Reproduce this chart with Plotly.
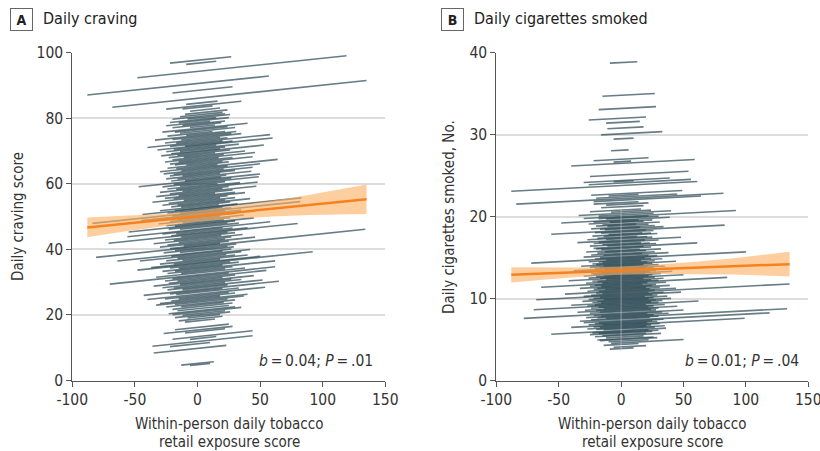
import plotly.graph_objects as go

# ---------------- data ----------------
# Panel A: person-specific lines (value at x=0, range of exposure)
craving_slope = 0.04
craving_icpt = [97.7, 96.8, 94.3, 90.6, 88.5, 86.1, 84.6, 83.8, 83.3, 82.4,
 81.6, 81.0, 80.5, 80.1, 79.6, 79.2, 78.7, 78.3, 77.9, 77.4,
 76.9, 76.5, 76.0, 75.5, 75.1, 74.7, 74.3, 73.9, 73.5, 73.1,
 72.7, 72.3, 71.9, 71.6, 71.2, 70.8, 70.4, 70.0, 69.7, 69.3,
 68.9, 68.5, 68.1, 67.7, 67.3, 66.9, 66.5, 66.1, 65.7, 65.3,
 64.9, 64.5, 64.1, 63.7, 63.3, 62.9, 62.5, 62.1, 61.7, 61.3,
 61.0, 60.6, 60.2, 59.8, 59.4, 59.0, 58.6, 58.2, 57.8, 57.4,
 57.0, 56.6, 56.2, 55.8, 55.4, 55.0, 54.6, 54.2, 53.8, 53.4,
 53.0, 52.6, 52.4, 52.0, 51.6, 51.3, 51.0, 50.6, 50.2, 49.8,
 49.4, 49.0, 48.6, 48.2, 47.8, 47.5, 47.1, 46.7, 46.1, 45.8,
 45.4, 45.0, 44.7, 44.3, 43.9, 43.5, 43.1, 42.7, 42.3, 41.9,
 41.5, 41.1, 40.8, 40.4, 40.0, 39.6, 39.0, 38.7, 38.3, 37.9,
 37.5, 37.1, 36.7, 36.3, 35.9, 35.6, 35.2, 34.8, 34.4, 34.0,
 33.6, 33.2, 32.8, 32.2, 31.8, 31.4, 31.0, 30.6, 30.2, 29.8,
 29.4, 29.0, 28.6, 28.2, 27.7, 27.3, 26.9, 26.3, 25.9, 25.5,
 25.1, 24.7, 24.3, 23.9, 23.4, 23.0, 22.5, 21.9, 21.3, 20.9,
 20.4, 19.9, 19.4, 18.8, 18.2, 16.2, 15.4, 14.9, 13.4, 12.8,
 11.9, 11.2, 9.8, 5.2, 4.8]
craving_xmin = [-22, -9, -48, -88, -20, -68, -9, -25, -12, -6,
 -10, -14, -20, -8, -22, -15, -25, -12, -20, -6,
 -28, -18, -14, -24, -9, -34, -20, -13, -26, -17,
 -40, -22, -10, -32, -19, -25, -14, -21, -29, -16,
 -23, -11, -20, -26, -15, -22, -18, -9, -24, -17,
 -30, -13, -27, -19, -22, -12, -25, -16, -21, -10,
 -47, -19, -28, -14, -24, -17, -30, -12, -22, -33,
 -15, -26, -19, -36, -11, -23, -28, -16, -21, -13,
 -30, -18, -44, -24, -14, -84, -20, -45, -27, -16,
 -22, -31, -12, -25, -18, -55, -23, -14, -56, -28,
 -17, -21, -71, -13, -26, -19, -35, -15, -24, -30,
 -11, -22, -81, -18, -27, -14, -64, -21, -46, -16,
 -25, -12, -30, -19, -37, -48, -22, -15, -28, -18,
 -24, -13, -33, -70, -20, -26, -16, -23, -35, -14,
 -28, -19, -24, -12, -43, -22, -17, -40, -26, -15,
 -21, -30, -33, -18, -25, -13, -20, -16, -23, -20,
 -12, -18, -8, -15, -10, -18, -27, -10, -20, -6,
 -36, -22, -35, -13, -6]
craving_xmax = [27, 15, 119, 57, 28, 135, 16, 35, 12, 18,
 24, 20, 22, 26, 15, 25, 10, 22, 19, 14,
 40, 24, 30, 12, 22, 31, 27, 35, 18, 24,
 58, 20, 28, 60, 15, 33, 22, 18, 53, 26,
 14, 38, 21, 46, 17, 28, 44, 20, 25, 16,
 64, 24, 50, 21, 44, 30, 18, 43, 23, 19,
 50, 27, 49, 22, 16, 34, 48, 25, 20, 47,
 28, 14, 30, 38, 24, 18, 30, 22, 42, 26,
 17, 32, 83, 20, 27, 82, 22, 35, 24, 31,
 18, 37, 26, 21, 45, 30, 24, 33, 58, 20,
 28, 40, 80, 24, 30, 19, 36, 27, 22, 46,
 25, 18, 134, 31, 24, 29, 27, 20, 42, 35,
 23, 30, 40, 18, 50, 92, 26, 33, 20, 62,
 28, 22, 38, 62, 25, 55, 30, 20, 45, 27,
 35, 22, 52, 24, 65, 20, 33, 54, 25, 30,
 18, 40, 37, 24, 30, 21, 28, 25, 30, 35,
 22, 26, 18, 20, 14, 25, 28, 22, 44, 15,
 44, 10, 23, 13, 10]

craving_band_x = [-88, -60, -30, 0, 30, 60, 90, 135]
craving_band_lo = [43.7, 45.4, 47.0, 48.4, 49.4, 50.0, 50.5, 50.8]
craving_band_hi = [49.7, 50.2, 50.8, 51.8, 53.2, 54.8, 56.7, 59.8]
craving_fit_x = [-88, 135]
craving_fit_y = [46.7, 55.3]

# Panel B
cig_slope = 0.008
cig_icpt = [38.8, 34.8, 33.2, 32.0, 31.5, 30.8, 30.1, 29.5, 28.1, 27.0,
 26.7, 26.5, 25.1, 24.4, 24.3, 24.1, 23.8, 22.8, 22.6, 22.4,
 22.2, 22.0, 21.7, 21.5, 21.2, 20.8, 20.6, 20.4, 20.2, 20.0,
 19.9, 19.8, 19.6, 19.5, 19.4, 19.3, 19.1, 19.0, 18.9, 18.7,
 18.6, 18.5, 18.3, 18.2, 18.1, 17.9, 17.8, 17.7, 17.5, 17.4,
 17.3, 17.1, 17.0, 16.9, 16.7, 16.6, 16.5, 16.3, 16.2, 16.1,
 15.9, 15.8, 15.7, 15.5, 15.4, 15.3, 15.1, 15.0, 14.9, 14.8,
 14.7, 14.6, 14.5, 14.4, 14.3, 14.2, 14.1, 14.0, 13.9, 13.8,
 13.7, 13.6, 13.5, 13.4, 13.3, 13.2, 13.1, 13.0, 12.9, 12.8,
 12.7, 12.6, 12.5, 12.4, 12.3, 12.2, 12.1, 12.0, 11.9, 11.8,
 11.7, 11.6, 11.5, 11.4, 11.3, 11.2, 11.1, 11.0, 10.9, 10.8,
 10.7, 10.6, 10.5, 10.4, 10.3, 10.2, 10.1, 10.0, 9.9, 9.8,
 9.7, 9.6, 9.5, 9.4, 9.3, 9.2, 9.1, 9.0, 8.9, 8.8,
 8.7, 8.6, 8.5, 8.4, 8.2, 8.1, 8.0, 7.9, 7.8, 7.7,
 7.6, 7.5, 7.3, 7.2, 7.1, 7.0, 6.9, 6.8, 6.7, 6.6,
 6.5, 6.4, 6.3, 6.1, 6.0, 5.9, 5.8, 5.6, 5.5, 5.3,
 5.1, 5.0, 4.8, 4.6, 4.4, 4.1, 3.9]
cig_xmin = [-9, -15, -18, -26, -12, -11, -16, -6, -8, -22,
 -6, -40, -25, -30, -6, -26, -88, -24, -10, -20,
 -84, -22, -22, -12, -16, -25, -8, -34, -18, -30,
 -18, -12, -48, -22, -9, -26, -15, -20, -11, -24,
 -17, -13, -56, -21, -16, -10, -23, -14, -19, -27,
 -12, -35, -18, -22, -15, -25, -11, -22, -20, -16,
 -28, -13, -19, -24, -14, -30, -17, -21, -72, -12,
 -26, -18, -15, -23, -20, -32, -14, -25, -17, -21,
 -38, -13, -27, -19, -16, -24, -22, -30, -14, -20,
 -26, -17, -42, -12, -23, -19, -28, -15, -64, -21,
 -25, -16, -33, -19, -22, -13, -27, -18, -45, -20,
 -15, -24, -30, -68, -17, -22, -26, -14, -31, -19,
 -23, -16, -40, -21, -27, -70, -18, -24, -14, -29,
 -20, -35, -17, -25, -78, -22, -16, -28, -19, -12,
 -24, -33, -30, -18, -21, -26, -15, -40, -22, -17,
 -27, -20, -14, -56, -23, -18, -25, -15, -21, -12,
 -19, -17, -10, -8, -14, -6, -9]
cig_xmax = [13, 27, 28, 20, 15, 18, 33, 10, 6, 22,
 8, 59, 54, 39, 10, 56, 61, 49, 14, 45,
 82, 64, 14, 22, 18, 16, 24, 40, 26, 92,
 22, 30, 39, 14, 25, 18, 31, 12, 22, 27,
 15, 34, 83, 20, 26, 17, 24, 29, 13, 21,
 25, 48, 19, 30, 16, 23, 28, 61, 18, 24,
 15, 32, 20, 27, 17, 38, 22, 29, 100, 19,
 24, 33, 16, 27, 21, 44, 25, 18, 30, 22,
 35, 26, 20, 37, 15, 28, 23, 41, 19, 32,
 25, 22, 50, 27, 18, 34, 24, 30, 85, 21,
 36, 17, 28, 25, 39, 20, 31, 23, 44, 27,
 135, 22, 34, 48, 25, 29, 19, 37, 26, 22,
 40, 28, 33, 24, 30, 62, 20, 35, 26, 22,
 45, 30, 24, 28, 50, 33, 21, 38, 26, 133,
 30, 23, 119, 34, 25, 29, 21, 99, 31, 24,
 20, 35, 27, 36, 22, 30, 25, 20, 32, 18,
 26, 29, 22, 50, 14, 20, 10]

cig_band_x = [-88, -60, -30, 0, 30, 60, 90, 135]
cig_band_lo = [11.97, 12.33, 12.68, 12.9, 12.99, 13.0, 12.92, 12.7]
cig_band_hi = [13.83, 13.77, 13.78, 13.9, 14.15, 14.5, 14.92, 15.7]
cig_fit_x = [-88, 135]
cig_fit_y = [12.9, 14.2]

x_tickvals = [-100, -50, 0, 50, 100, 150]
x_ticktext = ["-100", "-50", "0", "50", "100", "150"]
craving_ticks = [0, 20, 40, 60, 80, 100]
cig_ticks = [0, 10, 20, 30, 40]

# ---------------- figure ----------------
FONT = "DejaVu Sans Condensed, Liberation Sans Narrow, sans-serif"
SEG = "rgba(38,68,80,0.7)"
BAND = "rgba(253,176,98,0.62)"
FIT = "rgb(245,130,30)"

fig = go.Figure()

def add_segments(icpt, xmin, xmax, slope, xa, ya):
    for b, a, c in zip(icpt, xmin, xmax):
        fig.add_trace(go.Scatter(
            x=[a, c], y=[b + slope * a, b + slope * c], mode="lines",
            line=dict(color=SEG, width=1.6), xaxis=xa, yaxis=ya,
            hoverinfo="skip", showlegend=False))

def add_fit(bx, lo, hi, fx, fy, xa, ya):
    fig.add_trace(go.Scatter(
        x=bx + bx[::-1], y=hi + lo[::-1], fill="toself", fillcolor=BAND,
        line=dict(width=0), mode="lines", xaxis=xa, yaxis=ya,
        hoverinfo="skip", showlegend=False))
    fig.add_trace(go.Scatter(
        x=fx, y=fy, mode="lines", line=dict(color=FIT, width=2.5),
        xaxis=xa, yaxis=ya, hoverinfo="skip", showlegend=False))

add_segments(craving_icpt, craving_xmin, craving_xmax, craving_slope, "x", "y")
add_fit(craving_band_x, craving_band_lo, craving_band_hi,
        craving_fit_x, craving_fit_y, "x", "y")

add_segments(cig_icpt, cig_xmin, cig_xmax, cig_slope, "x2", "y2")
fig.add_trace(go.Scatter(x=[0, 0], y=[3.5, 21], mode="lines",
                         line=dict(color="rgba(225,225,225,0.5)", width=1),
                         xaxis="x2", yaxis="y2", hoverinfo="skip",
                         showlegend=False))
add_fit(cig_band_x, cig_band_lo, cig_band_hi, cig_fit_x, cig_fit_y, "x2", "y2")

axis_common = dict(
    showline=True, linecolor="#555", linewidth=1,
    ticks="outside", ticklen=5, tickcolor="#555", tickwidth=1,
    tickfont=dict(family=FONT, size=15.5, color="#333"),
    zeroline=False, automargin=False, ticklabeloverflow="allow",
)

ydom = [1 - 380.5 / 451, 1 - 52.7 / 451]
fig.update_layout(
    width=820, height=451,
    margin=dict(l=0, r=0, t=0, b=0, autoexpand=False),
    paper_bgcolor="white", plot_bgcolor="white",
    font=dict(family=FONT, color="#333"),
    showlegend=False,
    xaxis=dict(domain=[72.3 / 820, 385.3 / 820], range=[-100, 150],
               tickvals=x_tickvals, ticktext=x_ticktext, showgrid=False,
               anchor="y", **axis_common),
    yaxis=dict(domain=ydom, range=[0, 100], tickvals=craving_ticks,
               showgrid=True, gridcolor="#dcdcdc", gridwidth=2,
               anchor="x", **axis_common),
    xaxis2=dict(domain=[496.3 / 820, 808.3 / 820], range=[-100, 150],
                tickvals=x_tickvals, ticktext=x_ticktext, showgrid=False,
                anchor="y2", **axis_common),
    yaxis2=dict(domain=ydom, range=[0, 40], tickvals=cig_ticks,
                showgrid=True, gridcolor="#dcdcdc", gridwidth=2,
                anchor="x2", **axis_common),
)

def px(X):
    return X / 820

def py(Y):
    return 1 - Y / 451

ann = []
# panel labels
for X, letter in [(21, "A"), (452.3, "B")]:
    ann.append(dict(x=px(X), y=py(19.6), xref="paper", yref="paper",
                    text="<b>" + letter + "</b>", showarrow=False,
                    font=dict(family=FONT, size=14, color="#222"),
                    bordercolor="#666", borderwidth=1, borderpad=2,
                    width=17, height=17, xanchor="center", yanchor="middle"))
ann.append(dict(x=px(41), y=py(19), xref="paper", yref="paper",
                text="Daily craving", showarrow=False, xanchor="left",
                yanchor="middle", font=dict(family=FONT, size=16, color="#222")))
ann.append(dict(x=px(472), y=py(19), xref="paper", yref="paper",
                text="Daily cigarettes smoked", showarrow=False, xanchor="left",
                yanchor="middle", font=dict(family=FONT, size=16, color="#222")))
# y titles
ann.append(dict(x=px(18), y=py(217), xref="paper", yref="paper",
                text="Daily craving score", textangle=-90, showarrow=False,
                xanchor="center", yanchor="middle",
                font=dict(family=FONT, size=15, color="#333")))
ann.append(dict(x=px(449), y=py(217), xref="paper", yref="paper",
                text="Daily cigarettes smoked, No.", textangle=-90,
                showarrow=False, xanchor="center", yanchor="middle",
                font=dict(family=FONT, size=15, color="#333")))
# x titles
for cx in [229, 652]:
    ann.append(dict(x=px(cx), y=py(423.5), xref="paper", yref="paper",
                    text="Within-person daily tobacco", showarrow=False,
                    xanchor="center", yanchor="middle",
                    font=dict(family=FONT, size=15, color="#333")))
    ann.append(dict(x=px(cx), y=py(442), xref="paper", yref="paper",
                    text="retail exposure score", showarrow=False,
                    xanchor="center", yanchor="middle",
                    font=dict(family=FONT, size=15, color="#333")))
# stats
ann.append(dict(x=142, y=5.9, xref="x", yref="y",
                text="<i>b</i>\u2009=\u20090.04; <i>P</i>\u2009=\u2009.01",
                showarrow=False, xanchor="right", yanchor="middle",
                font=dict(family=FONT, size=15.5, color="#333")))
ann.append(dict(x=144, y=2.35, xref="x2", yref="y2",
                text="<i>b</i>\u2009=\u20090.01; <i>P</i>\u2009=\u2009.04",
                showarrow=False, xanchor="right", yanchor="middle",
                font=dict(family=FONT, size=15.5, color="#333")))
fig.update_layout(annotations=ann)

fig.write_html("out.html", config={"displayModeBar": False},
               post_script="document.body.style.margin='0';document.body.style.overflow='hidden';")
